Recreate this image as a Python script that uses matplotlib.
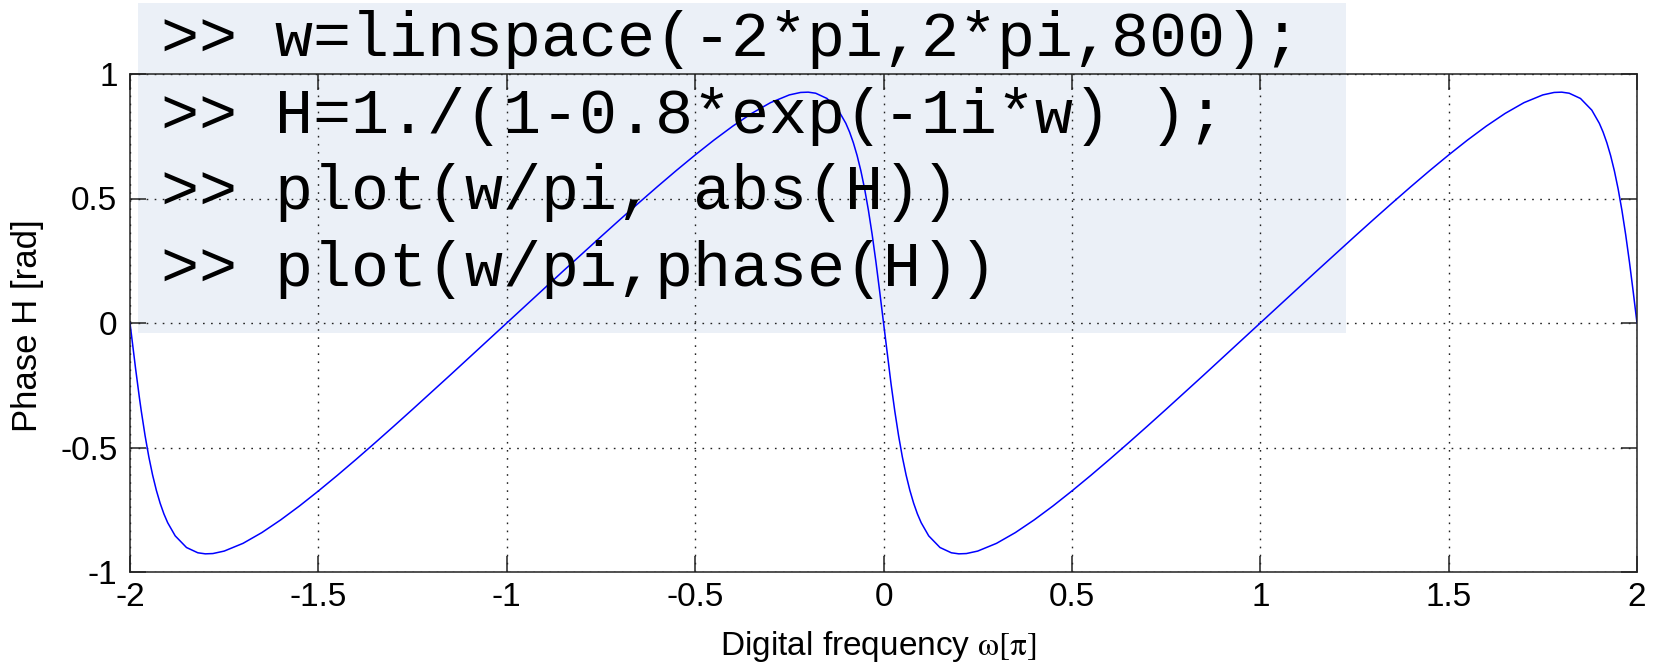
import matplotlib
matplotlib.use("Agg")
import matplotlib.pyplot as plt
from matplotlib.patches import Rectangle

# Normalised digital frequency (units of pi) and phase of H in radians
freq = [
    -2.000, -1.995, -1.990, -1.985, -1.980, -1.975, -1.970, -1.960, -1.950, -1.940,
    -1.930, -1.920, -1.910, -1.900, -1.880, -1.850, -1.820, -1.800, -1.780, -1.750,
    -1.700, -1.650, -1.600, -1.550, -1.500, -1.450, -1.400, -1.350, -1.300, -1.250,
    -1.200, -1.150, -1.100, -1.050, -1.000,
    -0.950, -0.900, -0.850, -0.800, -0.750, -0.700, -0.650, -0.600, -0.550, -0.500,
    -0.450, -0.400, -0.350, -0.300, -0.250, -0.220, -0.200, -0.180, -0.150, -0.120,
    -0.100, -0.090, -0.080, -0.070, -0.060, -0.050, -0.040, -0.030, -0.025, -0.020,
    -0.015, -0.010, -0.005, 0.000,
    0.005, 0.010, 0.015, 0.020, 0.025, 0.030, 0.040, 0.050, 0.060, 0.070,
    0.080, 0.090, 0.100, 0.120, 0.150, 0.180, 0.200, 0.220, 0.250, 0.300,
    0.350, 0.400, 0.450, 0.500, 0.550, 0.600, 0.650, 0.700, 0.750, 0.800,
    0.850, 0.900, 0.950, 1.000,
    1.050, 1.100, 1.150, 1.200, 1.250, 1.300, 1.350, 1.400, 1.450, 1.500,
    1.550, 1.600, 1.650, 1.700, 1.750, 1.780, 1.800, 1.820, 1.850, 1.880,
    1.900, 1.910, 1.920, 1.930, 1.940, 1.950, 1.960, 1.970, 1.975, 1.980,
    1.985, 1.990, 1.995, 2.000,
]
phase = [
    0.0000, -0.0627, -0.1248, -0.1854, -0.2442, -0.3006, -0.3542, -0.4523, -0.5378, -0.6107,
    -0.6722, -0.7238, -0.7667, -0.8020, -0.8549, -0.9017, -0.9228, -0.9271, -0.9259, -0.9160,
    -0.8849, -0.8417, -0.7907, -0.7346, -0.6747, -0.6123, -0.5478, -0.4818, -0.4147, -0.3467,
    -0.2781, -0.2090, -0.1395, -0.0698, 0.0000,
    0.0698, 0.1395, 0.2090, 0.2781, 0.3467, 0.4147, 0.4818, 0.5478, 0.6123, 0.6747,
    0.7346, 0.7907, 0.8417, 0.8849, 0.9160, 0.9259, 0.9271, 0.9228, 0.9017, 0.8549,
    0.8020, 0.7667, 0.7238, 0.6722, 0.6107, 0.5378, 0.4523, 0.3542, 0.3006, 0.2442,
    0.1854, 0.1248, 0.0627, 0.0000,
    -0.0627, -0.1248, -0.1854, -0.2442, -0.3006, -0.3542, -0.4523, -0.5378, -0.6107, -0.6722,
    -0.7238, -0.7667, -0.8020, -0.8549, -0.9017, -0.9228, -0.9271, -0.9259, -0.9160, -0.8849,
    -0.8417, -0.7907, -0.7346, -0.6747, -0.6123, -0.5478, -0.4818, -0.4147, -0.3467, -0.2781,
    -0.2090, -0.1395, -0.0698, 0.0000,
    0.0698, 0.1395, 0.2090, 0.2781, 0.3467, 0.4147, 0.4818, 0.5478, 0.6123, 0.6747,
    0.7346, 0.7907, 0.8417, 0.8849, 0.9160, 0.9259, 0.9271, 0.9228, 0.9017, 0.8549,
    0.8020, 0.7667, 0.7238, 0.6722, 0.6107, 0.5378, 0.4523, 0.3542, 0.3006, 0.2442,
    0.1854, 0.1248, 0.0627, 0.0000,
]

x_ticks = [-2, -1.5, -1, -0.5, 0, 0.5, 1, 1.5, 2]
x_tick_labels = ["-2", "-1.5", "-1", "-0.5", "0", "0.5", "1", "1.5", "2"]
y_ticks = [-1, -0.5, 0, 0.5, 1]
y_tick_labels = ["-1", "-0.5", "0", "0.5", "1"]

code_lines = [
    ">> w=linspace(-2*pi,2*pi,800);",
    ">> H=1./(1-0.8*exp(-1i*w) );",
    ">> plot(w/pi, abs(H))",
    ">> plot(w/pi,phase(H))",
]

plt.rcParams["font.family"] = ["Liberation Sans", "DejaVu Sans"]
plt.rcParams["mathtext.fontset"] = "stix"

W, H = 1657, 664
fig = plt.figure(figsize=(W / 100, H / 100), dpi=100)
fig.patch.set_facecolor("white")

ax = fig.add_axes([130 / W, 1 - 572 / H, 1507 / W, 498 / H])
ax.set_zorder(1)
ax.patch.set_alpha(0)

ax.plot(freq, phase, color="#0000ff", lw=1.1)

ax.set_xlim(-2, 2)
ax.set_ylim(-1, 1)
ax.set_xticks(x_ticks)
ax.set_xticklabels(x_tick_labels)
ax.set_yticks(y_ticks)
ax.set_yticklabels(y_tick_labels)

ax.grid(True, color="#222222", linestyle=(0, (1.2, 4.6)), linewidth=1.0)
ax.tick_params(direction="in", length=11.5, width=1.1, color="#222222",
               top=True, right=True, labelsize=24)
ax.tick_params(axis="x", pad=7)
ax.tick_params(axis="y", pad=9)
for s in ax.spines.values():
    s.set_linewidth(1.1)
    s.set_color("#222222")

ax.set_xlabel(r"Digital frequency $\mathrm{\omega[\pi]}$", fontsize=24, va="baseline")
ax.xaxis.set_label_coords((878 - 130) / 1507, -(655 - 572) / 498)
ax.set_ylabel("Phase H [rad]", fontsize=25, va="center")
ax.yaxis.set_label_coords((27 - 130) / 1507, 0.495)

# Command-window panel laid over the plot
panel = Rectangle((138 / W, 1 - 333 / H), 1208 / W, 330 / H,
                  transform=fig.transFigure, facecolor="#ebf0f7",
                  edgecolor="none", zorder=0)
fig.add_artist(panel)

baselines = [56, 133, 209, 286]
for line, yb in zip(code_lines, baselines):
    fig.text(161 / W, 1 - yb / H, line, family="Liberation Mono",
             fontsize=45.6, va="baseline", ha="left", color="black", zorder=5)

fig.savefig("out.png", dpi=100)
